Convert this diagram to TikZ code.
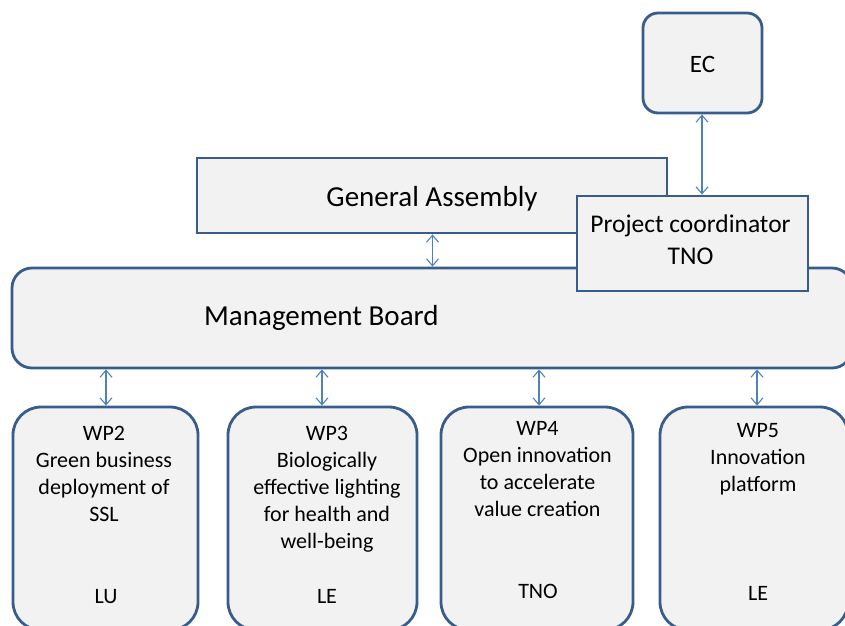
\documentclass[tikz,border=0pt]{standalone}
\usepackage{fontspec}
\setmainfont{Carlito}
\usetikzlibrary{arrows.meta}
\definecolor{boxline}{HTML}{385D8A}
\definecolor{boxfill}{HTML}{F2F2F2}
\definecolor{linkblue}{HTML}{4F81BD}
\begin{document}
\begin{tikzpicture}[x=1pt,y=-1pt,
  box/.style={draw=boxline,fill=boxfill,line width=2.8pt,inner sep=0pt},
  sharpbox/.style={box},
  roundbox/.style={box,rounded corners=#1},
  lbl/.style={inner sep=0pt,align=center,text=black},
  wptext/.style={lbl,anchor=north,font=\fontsize{22}{27}\selectfont},
  link/.style={draw=linkblue,line width=1.1pt,{Straight Barb[length=7pt,width=12pt]}-{Straight Barb[length=7pt,width=12pt]}}]
\useasboundingbox (0,0) rectangle (845,625);
\clip (0,0) rectangle (845,625);

% top level
\node[roundbox=15pt,minimum width=119pt,minimum height=100pt] (ec) at (702.5,63) {};
\node[lbl,font=\fontsize{25}{30}\selectfont] (ect) at (702.5,64) {EC};

\node[sharpbox,minimum width=470pt,minimum height=75pt] (ga) at (432,195.5) {};
\node[lbl,anchor=base,font=\fontsize{29}{35}\selectfont] (gat) at (432,206) {General Assembly};

% management board (runs past the right edge)
\node[roundbox=20pt,minimum width=840pt,minimum height=100pt] (mb) at (432,318) {};
\node[lbl,anchor=base west,font=\fontsize{29}{35}\selectfont] (mbt) at (204,325) {Management Board};

\node[sharpbox,minimum width=231pt,minimum height=95pt] (pc) at (692.5,243.5) {};
\node[lbl,anchor=north,font=\fontsize{25.5}{32.5}\selectfont] (pct) at (690.5,209.5) {\strut Project coordinator\\TNO};

% work packages (run past the bottom edge)
\node[roundbox=28pt,minimum width=185pt,minimum height=223pt] (wp2) at (105.5,518.5) {};
\node[roundbox=28pt,minimum width=189pt,minimum height=223pt] (wp3) at (322.5,518.5) {};
\node[roundbox=28pt,minimum width=192pt,minimum height=223pt] (wp4) at (537,518.5) {};
\node[roundbox=28pt,minimum width=188pt,minimum height=223pt] (wp5) at (754,518.5) {};

\node[wptext] (wp2t) at (104,421) {\strut WP2\\Green business\\deployment of\\SSL};
\node[wptext] (wp3t) at (327,421) {\strut WP3\\Biologically\\effective lighting\\for health and\\well-being};
\node[wptext] (wp4t) at (537.5,416) {\strut WP4\\Open innovation\\to accelerate\\value creation};
\node[wptext] (wp5t) at (758,418) {\strut WP5\\Innovation\\platform};

\node[lbl,anchor=base,font=\fontsize{22}{27}\selectfont] (wp2l) at (106,603) {LU};
\node[lbl,anchor=base,font=\fontsize{22}{27}\selectfont] (wp3l) at (327,603) {LE};
\node[lbl,anchor=base,font=\fontsize{22}{27}\selectfont] (wp4l) at (538,598) {TNO};
\node[lbl,anchor=base,font=\fontsize{22}{27}\selectfont] (wp5l) at (758,600) {LE};

% links
\path[link] (ec.south -| 702,0) -- (pc.north -| 702,0);
\path[link] (ga.south -| 432.5,0) -- (mb.north -| 432.5,0);
\path[link] (mb.south -| 106,0) -- (wp2.north -| 106,0);
\path[link] (mb.south -| 322,0) -- (wp3.north -| 322,0);
\path[link] (mb.south -| 539,0) -- (wp4.north -| 539,0);
\path[link] (mb.south -| 757,0) -- (wp5.north -| 757,0);
\end{tikzpicture}
\end{document}
